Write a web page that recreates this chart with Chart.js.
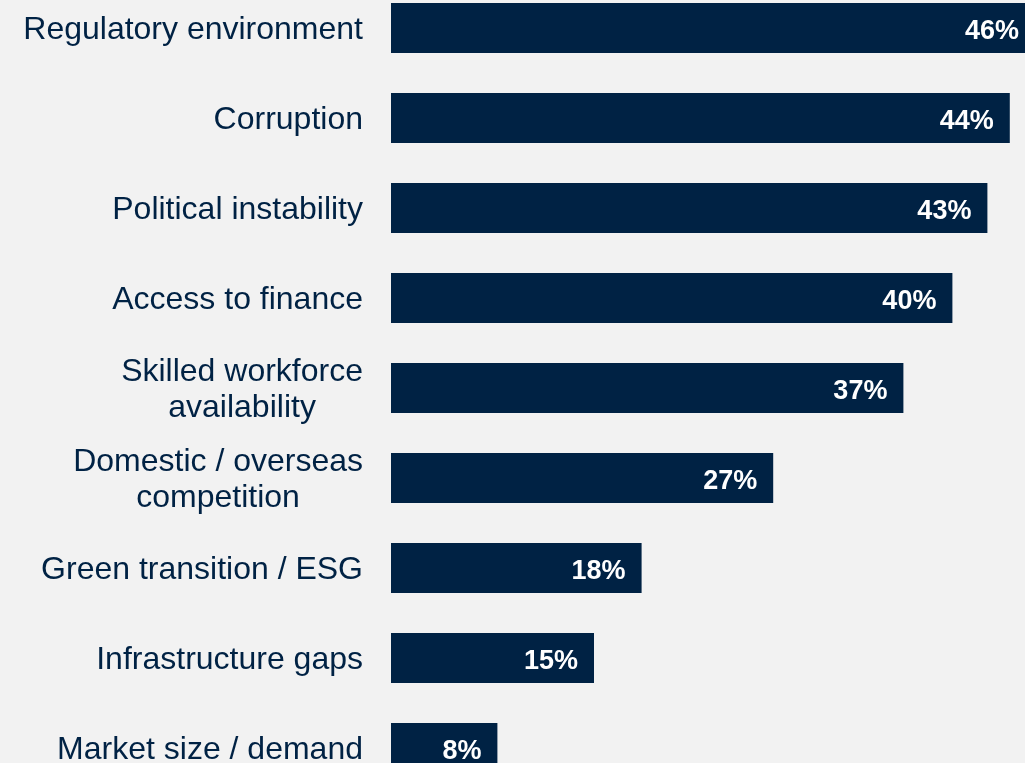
<!DOCTYPE html>
<html>
<head>
<meta charset="utf-8">
<title>Barriers</title>
<script src="https://cdn.jsdelivr.net/npm/chart.js@4/dist/chart.umd.min.js"></script>
<style>
  html, body { margin: 0; padding: 0; background: #f2f2f2; overflow: hidden; }
  body { width: 1025px; height: 763px; position: relative; }
  /* plot is taller than the window: the last bar is cut by the bottom edge, as in the source */
  #wrap { position: absolute; left: 0; top: -17px; width: 1025px; height: 810px; }
</style>
</head>
<body>
<div id="wrap"><canvas id="barChart"></canvas></div>
<script>
  // categories, top to bottom (arrays = two-line labels)
  var CATEGORIES = [
    'Regulatory environment',
    'Corruption',
    'Political instability',
    'Access to finance',
    ['Skilled workforce', 'availability'],
    ['Domestic / overseas', 'competition'],
    'Green transition / ESG',
    'Infrastructure gaps',
    'Market size / demand'
  ];
  // bar lengths (percent)
  var VALUES = [46.0, 44.2, 42.6, 40.1, 36.6, 27.3, 17.9, 14.5, 7.6];
  // printed value labels
  var VALUE_LABELS = ['46%', '44%', '43%', '40%', '37%', '27%', '18%', '15%', '8%'];

  var NAVY = '#002244';
  var FONT = "'Liberation Sans', Arial, sans-serif";

  // category names right-aligned as a block left of the bars, lines centred on each other
  var categoryLabels = {
    id: 'categoryLabels',
    afterDraw: function (chart) {
      var ctx = chart.ctx;
      var yScale = chart.scales.y;
      var size = 32, lineH = 36;
      var right = chart.chartArea.left - 28;
      ctx.save();
      ctx.font = size + 'px ' + FONT;
      ctx.fillStyle = NAVY;
      ctx.textAlign = 'center';
      ctx.textBaseline = 'alphabetic';
      CATEGORIES.forEach(function (label, i) {
        var lines = Array.isArray(label) ? label : [label];
        var widest = 0;
        lines.forEach(function (l) { widest = Math.max(widest, ctx.measureText(l).width); });
        var cx = right - widest / 2;
        var cy = yScale.getPixelForValue(i);
        var first = cy - (lines.length - 1) * lineH / 2;
        lines.forEach(function (l, j) {
          ctx.fillText(l, cx, first + j * lineH + size * 0.355);
        });
      });
      ctx.restore();
    }
  };

  // white bold value inside the end of each bar
  var valueLabels = {
    id: 'valueLabels',
    afterDatasetsDraw: function (chart) {
      var ctx = chart.ctx;
      var meta = chart.getDatasetMeta(0);
      ctx.save();
      ctx.font = 'bold 27px ' + FONT;
      ctx.fillStyle = '#ffffff';
      ctx.textAlign = 'right';
      ctx.textBaseline = 'alphabetic';
      meta.data.forEach(function (bar, i) {
        ctx.fillText(VALUE_LABELS[i], bar.x - 16, bar.y + 10.5);
      });
      ctx.restore();
    }
  };

  new Chart(document.getElementById('barChart'), {
    type: 'bar',
    data: {
      labels: CATEGORIES,
      datasets: [{
        data: VALUES,
        backgroundColor: NAVY,
        borderWidth: 0,
        barPercentage: 1,
        categoryPercentage: 50 / 90
      }]
    },
    options: {
      indexAxis: 'y',
      responsive: true,
      maintainAspectRatio: false,
      animation: false,
      events: [],
      layout: { padding: { left: 391, right: 0, top: 0, bottom: 0 } },
      plugins: { legend: { display: false }, tooltip: { enabled: false } },
      scales: {
        x: { display: false, min: 0, max: 634 / 14 },
        y: { display: false }
      }
    },
    plugins: [categoryLabels, valueLabels]
  });
</script>
</body>
</html>
